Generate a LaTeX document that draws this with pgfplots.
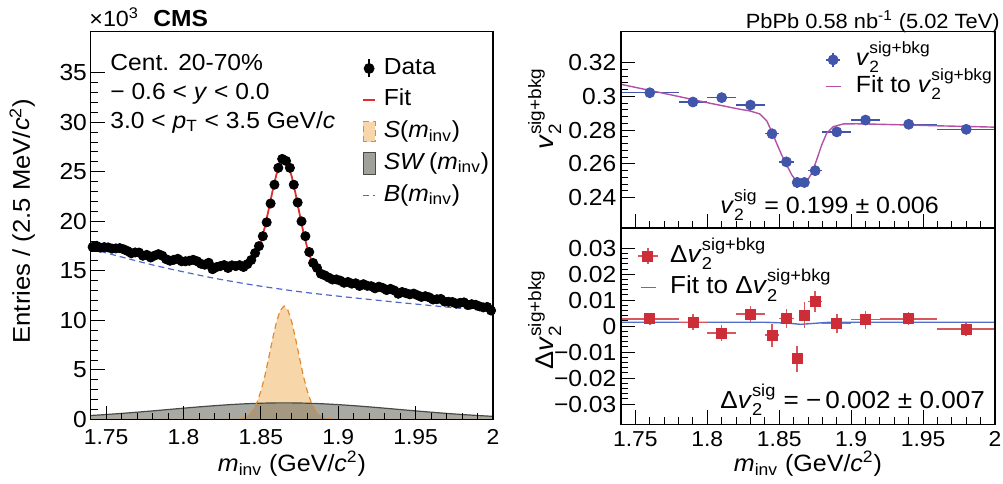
\documentclass[border=0pt]{standalone}
\usepackage{fontspec}
\setmainfont{Liberation Sans}[FakeStretch=1.06]
\usepackage{amsmath}
\usepackage{pgfplots}
\pgfplotsset{compat=1.18}

\definecolor{fitred}{RGB}{225,45,45}
\definecolor{bblue}{RGB}{80,105,200}
\definecolor{sfill}{RGB}{247,214,170}
\definecolor{sline}{RGB}{225,140,50}
\definecolor{swfill}{RGB}{110,112,100}
\definecolor{swmix}{RGB}{160,161,154}
\definecolor{swline}{RGB}{70,75,70}
\definecolor{vblue}{RGB}{65,85,170}
\definecolor{vfit}{RGB}{180,80,165}
\definecolor{dred}{RGB}{205,45,55}
\definecolor{dfit}{RGB}{85,110,200}

\newcommand{\fs}[1]{\fontsize{#1}{#1}\selectfont}
\newcommand{\minv}{\textit{m}$_{\text{inv}}$}
\newcommand{\vsb}{\textit{v}$^{\text{sig+bkg}}_{\text{2}}$}

\pgfplotsset{
  cmsaxis/.style={
    scale only axis, anchor=south west,
    xmin=1.74, xmax=2,
    xtick={1.75,1.8,1.85,1.9,1.95,2},
    minor x tick num=4, minor y tick num=4,
    tick align=inside, tick pos=left,
    major tick length=7pt, minor tick length=3.5pt,
    axis line style={line width=0.6pt},
    every tick/.style={black, line width=0.5pt},
    axis on top,
    /pgf/number format/assume math mode=true,
    xticklabel style={font=\fs{10.8}, inner sep=0pt},
    yticklabel style={font=\fs{11.6}, inner sep=0pt},
    scaled y ticks=false,
    legend cell align=left,
  },
}

\begin{document}
\begin{tikzpicture}
\useasboundingbox (0,0) rectangle (501.5pt,241.5pt);

% ---------------- left: invariant mass ----------------
\begin{axis}[cmsaxis,
  at={(45.35pt,31.75pt)}, width=201.15pt, height=193.9pt,
  ymin=0, ymax=39.14, ytick={0,5,...,35},
  xticklabel style={yshift=-5pt},
  yticklabel style={xshift=-1.7pt},
  legend style={at={(0.6744,0.9366)}, anchor=north west, draw=none, fill=none,
    inner sep=0pt, row sep=4.05pt, column sep=4pt, font=\fs{11.6},
    nodes={inner sep=0pt, text height=8.8pt, text depth=3pt}},
]
% S(minv)
\addplot[draw=none, fill=sfill, forget plot] coordinates {
(1.74,0)(1.83,0)(1.8325,0.017)(1.835,0.044)(1.8375,0.11)(1.84,0.24)(1.8425,0.50)(1.845,0.97)
(1.8475,1.73)(1.85,2.86)(1.8525,4.36)(1.855,6.18)(1.8575,8.09)(1.86,9.81)(1.8625,11.02)
(1.865,11.45)(1.8675,11.02)(1.87,9.81)(1.8725,8.09)(1.875,6.18)(1.8775,4.36)(1.88,2.86)
(1.8825,1.73)(1.885,0.97)(1.8875,0.50)(1.89,0.24)(1.8925,0.11)(1.895,0.044)(1.8975,0.017)
(1.90,0)(2.0,0)} \closedcycle;
% SW(minv)
\addplot[draw=none, fill=swfill, fill opacity=0.6, forget plot] coordinates {
(1.74,0.403)(1.75,0.502)(1.76,0.614)(1.77,0.737)(1.78,0.869)(1.79,1.005)(1.80,1.142)
(1.81,1.275)(1.82,1.396)(1.83,1.502)(1.84,1.587)(1.85,1.646)(1.86,1.676)(1.865,1.68)
(1.87,1.676)(1.88,1.646)(1.89,1.587)(1.90,1.502)(1.91,1.396)(1.92,1.275)(1.93,1.142)
(1.94,1.005)(1.95,0.869)(1.96,0.737)(1.97,0.614)(1.98,0.502)(1.99,0.403)(2.00,0.318)} \closedcycle;
\addplot[swline, line width=0.6pt, forget plot] coordinates {
(1.74,0.403)(1.75,0.502)(1.76,0.614)(1.77,0.737)(1.78,0.869)(1.79,1.005)(1.80,1.142)
(1.81,1.275)(1.82,1.396)(1.83,1.502)(1.84,1.587)(1.85,1.646)(1.86,1.676)(1.865,1.68)
(1.87,1.676)(1.88,1.646)(1.89,1.587)(1.90,1.502)(1.91,1.396)(1.92,1.275)(1.93,1.142)
(1.94,1.005)(1.95,0.869)(1.96,0.737)(1.97,0.614)(1.98,0.502)(1.99,0.403)(2.00,0.318)};
\addplot[sline, densely dashed, line width=0.6pt, forget plot] coordinates {
(1.74,0)(1.83,0)(1.8325,0.017)(1.835,0.044)(1.8375,0.11)(1.84,0.24)(1.8425,0.50)(1.845,0.97)
(1.8475,1.73)(1.85,2.86)(1.8525,4.36)(1.855,6.18)(1.8575,8.09)(1.86,9.81)(1.8625,11.02)
(1.865,11.45)(1.8675,11.02)(1.87,9.81)(1.8725,8.09)(1.875,6.18)(1.8775,4.36)(1.88,2.86)
(1.8825,1.73)(1.885,0.97)(1.8875,0.50)(1.89,0.24)(1.8925,0.11)(1.895,0.044)(1.8975,0.017)
(1.90,0)(2.0,0)};
% B(minv)
\addplot[bblue, densely dashed, line width=0.6pt, forget plot] coordinates {
(1.74,17.25)(1.75,16.81)(1.76,16.40)(1.77,15.99)(1.78,15.60)(1.79,15.24)(1.80,14.90)
(1.81,14.57)(1.82,14.25)(1.83,13.97)(1.84,13.70)(1.85,13.45)(1.86,13.22)(1.87,13.00)
(1.88,12.80)(1.89,12.62)(1.90,12.45)(1.91,12.28)(1.92,12.12)(1.93,11.96)(1.94,11.80)
(1.95,11.65)(1.96,11.50)(1.97,11.35)(1.98,11.20)(1.99,11.05)(2.00,10.90)};
% data
\addplot[only marks, mark=*, mark size=2.3pt, black, forget plot] table {
1.74125 17.41
1.74375 17.52
1.74625 17.34
1.74875 17.40
1.75125 17.37
1.75375 17.25
1.75625 17.27
1.75875 17.30
1.76125 17.18
1.76375 17.01
1.76625 16.78
1.76875 16.86
1.77125 16.85
1.77375 16.53
1.77625 16.62
1.77875 16.35
1.78125 16.54
1.78375 16.69
1.78625 16.53
1.78875 16.18
1.79125 16.02
1.79375 16.12
1.79625 16.22
1.79875 15.97
1.80125 15.97
1.80375 16.02
1.80625 16.12
1.80875 15.97
1.81125 15.72
1.81375 15.62
1.81625 15.82
1.81875 15.17
1.82125 15.38
1.82375 15.48
1.82625 15.59
1.82875 15.29
1.83125 15.56
1.83375 15.48
1.83625 15.58
1.83875 15.39
1.84125 15.68
1.84375 16.10
1.84625 16.80
1.84875 17.50
1.85125 18.50
1.85375 19.90
1.85625 21.80
1.85875 23.70
1.86125 25.40
1.86375 26.30
1.86625 26.10
1.86875 25.40
1.87125 23.70
1.87375 21.90
1.87625 20.00
1.87875 18.50
1.88125 16.90
1.88375 15.80
1.88625 15.30
1.88875 14.71
1.89125 14.55
1.89375 14.33
1.89625 14.13
1.89875 14.14
1.90125 14.02
1.90375 13.80
1.90625 13.88
1.90875 13.71
1.91125 13.75
1.91375 13.48
1.91625 13.66
1.91875 13.49
1.92125 13.46
1.92375 13.24
1.92625 13.41
1.92875 13.28
1.93125 13.06
1.93375 13.19
1.93625 13.02
1.93875 12.69
1.94125 12.87
1.94375 12.75
1.94625 12.63
1.94875 12.71
1.95125 12.54
1.95375 12.37
1.95625 12.45
1.95875 12.33
1.96125 12.11
1.96375 12.14
1.96625 12.17
1.96875 11.90
1.97125 11.88
1.97375 11.86
1.97625 11.70
1.97875 11.78
1.98125 11.82
1.98375 11.56
1.98625 11.64
1.98875 11.58
1.99125 11.42
1.99375 11.31
1.99625 11.36
1.99875 11.00
};
% total fit
\addplot[fitred, line width=0.9pt, forget plot] coordinates {
(1.74,17.65)(1.75,17.31)(1.76,17.01)(1.77,16.73)(1.78,16.47)(1.79,16.25)(1.80,16.04)
(1.81,15.85)(1.82,15.65)(1.83,15.47)(1.835,15.44)(1.8375,15.46)(1.84,15.53)(1.8425,15.74)
(1.845,16.16)(1.8475,16.87)(1.85,17.96)(1.8525,19.40)(1.855,21.18)(1.8575,23.04)
(1.86,24.71)(1.8625,25.86)(1.865,26.24)(1.8675,25.75)(1.87,24.49)(1.8725,22.71)
(1.875,20.74)(1.8775,18.86)(1.88,17.31)(1.8825,16.12)(1.885,15.30)(1.8875,14.77)
(1.89,14.45)(1.8925,14.25)(1.895,14.12)(1.90,13.95)(1.91,13.68)(1.92,13.40)(1.93,13.10)
(1.94,12.81)(1.95,12.52)(1.96,12.24)(1.97,11.96)(1.98,11.70)(1.99,11.45)(2.00,11.22)};

\addlegendimage{legend image code/.code={
  \draw[black, line width=0.75pt] (3pt,-4.5pt)--(3pt,4.5pt);
  \fill[black] (3pt,0pt) circle (2.5pt);}}
\addlegendentry{Data}
\addlegendimage{legend image code/.code={
  \draw[fitred, line width=0.7pt] (0pt,0pt)--(6pt,0pt);}}
\addlegendentry{Fit}
\addlegendimage{legend image code/.code={
  \draw[fill=sfill, draw=sline, densely dashed, line width=0.5pt] (0pt,-5pt) rectangle (6pt,5pt);}}
\addlegendentry{\textit{S}(\minv)}
\addlegendimage{legend image code/.code={
  \draw[fill=swmix, draw=swline, line width=0.5pt] (0pt,-5.5pt) rectangle (6pt,5.5pt);}}
\addlegendentry{\textit{SW}\,(\minv)}
\addlegendimage{legend image code/.code={
  \draw[bblue, densely dashed, line width=0.6pt] (0pt,0pt)--(6pt,0pt);}}
\addlegendentry{\textit{B}(\minv)}
\end{axis}

% ---------------- right top: v2 ----------------
\begin{axis}[cmsaxis,
  at={(310.5pt,127.5pt)}, width=187pt, height=98.15pt,
  ymin=0.222, ymax=0.3384,
  xticklabels={},
  ytick={0.24,0.26,0.28,0.3,0.32}, yticklabels={0.24,0.26,0.28,0.3,0.32},
  yticklabel style={xshift=-2.15pt},
  legend style={at={(0.5455,0.912)}, anchor=north west, draw=none, fill=none,
    inner sep=0pt, row sep=2.85pt, column sep=7pt, font=\fs{11.7},
    nodes={inner sep=0pt, text height=8pt, text depth=2.5pt}},
]
\addplot[only marks, mark=*, mark size=2.5pt, color=vblue, forget plot,
  error bars/.cd, x dir=both, x explicit, y dir=both, y explicit,
  error mark=none, error bar style={line width=0.75pt, vblue}]
  table[x=x, y=y, x error minus=xm, x error plus=xp, y error=ey] {
x y xm xp ey
1.760 0.3022 0.020 0.020 0.002
1.790 0.2967 0.010 0.010 0.002
1.810 0.2993 0.010 0.010 0.002
1.830 0.2949 0.010 0.010 0.002
1.845 0.2779 0.005 0.005 0.003
1.855 0.2612 0.005 0.005 0.003
1.8625 0.2490 0.0025 0.0025 0.003
1.8675 0.2490 0.0025 0.0025 0.003
1.875 0.2560 0.005 0.005 0.003
1.890 0.2790 0.010 0.010 0.002
1.910 0.2860 0.010 0.010 0.002
1.940 0.2835 0.020 0.020 0.002
1.980 0.2805 0.020 0.020 0.002
};
\addplot[vfit, line width=0.7pt, forget plot] coordinates {
(1.74,0.3072)(1.76,0.3036)(1.78,0.3000)(1.80,0.2963)(1.8227,0.2924)(1.8297,0.2914)
(1.8366,0.2896)(1.8413,0.2856)(1.8448,0.2791)(1.8482,0.2722)(1.8517,0.2653)
(1.8552,0.2594)(1.8587,0.2535)(1.8621,0.2495)(1.8656,0.2481)(1.8691,0.2495)
(1.8726,0.2545)(1.8760,0.2623)(1.8795,0.2712)(1.8830,0.2782)(1.8876,0.2821)
(1.8946,0.2837)(1.9039,0.2838)(1.92,0.2835)(1.96,0.2826)(2.00,0.2818)};
\addlegendimage{legend image code/.code={
  \draw[vblue, line width=0.75pt] (0pt,0pt)--(7pt,0pt) (3.5pt,-3.5pt)--(3.5pt,3.5pt);
  \fill[vblue] (3.5pt,0pt) circle (2.5pt);}}
\addlegendentry{\vsb}
\addlegendimage{legend image code/.code={
  \draw[vfit, line width=0.7pt] (0pt,0pt)--(7.5pt,0pt);}}
\addlegendentry{Fit to \vsb}
\end{axis}

% ---------------- right bottom: delta v2 ----------------
\begin{axis}[cmsaxis,
  at={(310.5pt,29.35pt)}, width=187pt, height=98.15pt,
  ymin=-0.0378, ymax=0.0378,
  ytick={-0.03,-0.02,-0.01,0,0.01,0.02,0.03},
  yticklabels={−0.03,−0.02,−0.01,0,0.01,0.02,0.03},
  xticklabel style={yshift=-3.5pt},
  yticklabel style={xshift=-2.15pt},
  legend style={at={(0.042,0.92)}, anchor=north west, draw=none, fill=none,
    inner sep=0pt, row sep=3.8pt, column sep=5.8pt, font=\fs{12.3},
    nodes={inner sep=0pt, text height=9pt, text depth=3pt}},
]
\addplot[dfit, line width=0.7pt, forget plot] coordinates {
(1.74,0.0015)(1.84,0.0015)(1.855,0.0012)(1.865,0.0007)(1.875,0.0011)(1.885,0.0015)(2.00,0.0015)};
\addplot[only marks, mark=square*, mark size=2.5pt, color=dred, forget plot,
  error bars/.cd, x dir=both, x explicit, y dir=both, y explicit,
  error mark=none, error bar style={line width=0.75pt, dred!80}]
  table[x=x, y=y, x error minus=xm, x error plus=xp, y error=ey] {
x y xm xp ey
1.760 0.0028 0.020 0.020 0.0022
1.790 0.0015 0.010 0.010 0.0030
1.810 -0.0026 0.010 0.010 0.0030
1.830 0.0047 0.010 0.010 0.0030
1.845 -0.0035 0.005 0.005 0.0045
1.855 0.0029 0.005 0.005 0.0038
1.8625 -0.0125 0.0025 0.0025 0.0050
1.8675 0.0042 0.0025 0.0025 0.0050
1.875 0.0095 0.005 0.005 0.0040
1.890 0.0010 0.010 0.010 0.0035
1.910 0.0025 0.010 0.010 0.0035
1.940 0.0028 0.020 0.020 0.0025
1.980 -0.0011 0.020 0.020 0.0025
};
\addlegendimage{legend image code/.code={
  \draw[dred!80, line width=0.75pt] (0pt,0pt)--(10pt,0pt) (5pt,-4pt)--(5pt,4pt);
  \fill[dred] (2.5pt,-2.5pt) rectangle (7.5pt,2.5pt);}}
\addlegendentry{Δ\vsb}
\addlegendimage{legend image code/.code={
  \draw[dfit, line width=0.7pt] (1.7pt,0pt)--(9.2pt,0pt);}}
\addlegendentry{Fit to Δ\vsb}
\end{axis}

% ---------------- texts ----------------
\node[anchor=base west, inner sep=0pt, font=\fs{11}] at (44.5pt,228.2pt) {×10\textsuperscript{3}};
\node[anchor=base west, inner sep=0pt, font=\fs{11.6}\bfseries] at (76.5pt,228.2pt) {CMS};
\node[anchor=base east, inner sep=0pt, font=\fs{10.3}] at (500pt,227.4pt) {PbPb 0.58 nb\textsuperscript{-1} (5.02 TeV)};

\node[anchor=base west, inner sep=0pt, font=\fs{11.6}] at (55pt,206pt) {Cent. 20-70\%};
\node[anchor=base west, inner sep=0pt, font=\fs{11.6}] at (55pt,191.5pt) {− 0.6 < \textit{y} < 0.0};
\node[anchor=base west, inner sep=0pt, font=\fs{11.6}] at (55pt,177.35pt) {3.0 < \textit{p}$_{\text{T}}$ < 3.5 GeV/\textit{c}};

\node[anchor=base west, inner sep=0pt, font=\fs{11.8}] at (360pt,135pt) {\textit{v}$^{\text{sig}}_{\text{2}}$ = 0.199 ± 0.006};
\node[anchor=base west, inner sep=0pt, font=\fs{12.3}] at (360pt,37.35pt) {Δ\textit{v}$^{\text{sig}}_{\text{2}}$ = −\,0.002 ± 0.007};

\node[anchor=base, inner sep=0pt, font=\fs{11.8}] at (146pt,5.8pt) {\minv{} (GeV/\textit{c}$^{\text{2}}$)};
\node[anchor=base, inner sep=0pt, font=\fs{11.8}] at (404pt,5.8pt) {\minv{} (GeV/\textit{c}$^{\text{2}}$)};
\node[anchor=base, inner sep=0pt, rotate=90, font=\fs{12.1}] at (15pt,131pt) {Entries / (2.5 MeV/\textit{c}$^{\text{2}}$)};
\node[anchor=base west, inner sep=0pt, rotate=90, font=\fs{12.8}] at (276.5pt,166.5pt) {\vsb};
\node[anchor=base west, inner sep=0pt, rotate=90, font=\fs{12.8}] at (276.5pt,56.5pt) {Δ\vsb};
\end{tikzpicture}
\end{document}
